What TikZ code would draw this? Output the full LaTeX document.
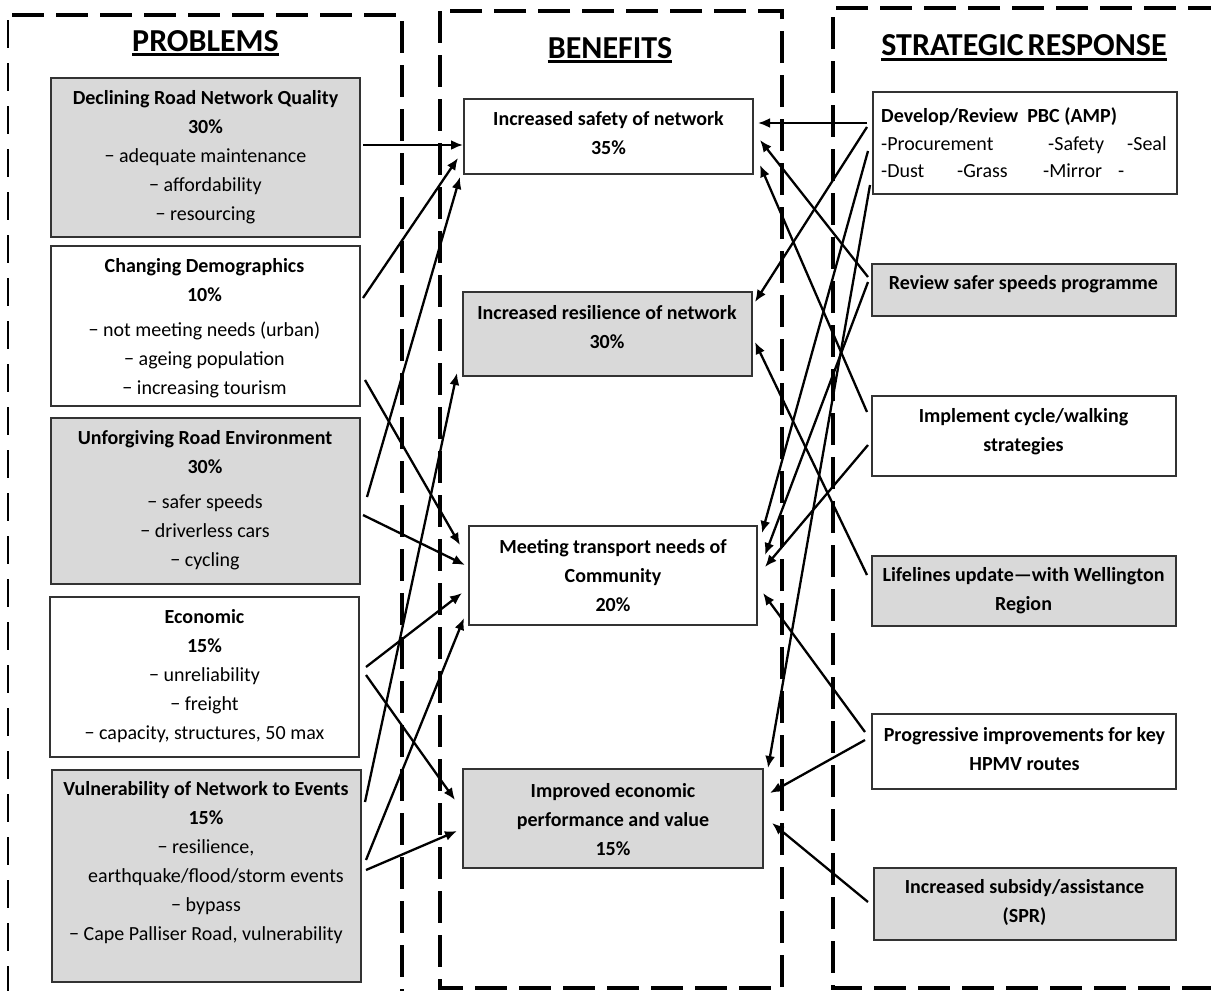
\documentclass[tikz,border=0pt]{standalone}
\usepackage{fontspec}
\setmainfont{Carlito}
\usetikzlibrary{arrows.meta}
\definecolor{gfill}{HTML}{D9D9D9}
\begin{document}
\begin{tikzpicture}[x=1pt,y=-1pt,
  box/.style={draw=black!80, line width=1.2pt, inner sep=0pt, outer sep=0pt},
  gbox/.style={box, fill=gfill},
  wbox/.style={box, fill=white},
  txt/.style={align=center, inner sep=0pt, font=\fontsize{20}{29}\selectfont},
  btxt/.style={txt, font=\fontsize{20}{29}\selectfont\bfseries},
  hdr/.style={inner sep=0pt, anchor=base, font=\fontsize{32}{36}\selectfont\bfseries},
  uline/.style={line width=3.2pt},
  frame/.style={line width=4pt, dash pattern=on 32pt off 12pt},
  thinframe/.style={line width=1.8pt, dash pattern=on 28pt off 15pt},
  arr/.style={line width=2.3pt, -{Latex[length=12pt,width=10pt]}}
]
\useasboundingbox (0,0) rectangle (1211,991);
\clip (0,0) rectangle (1211,991);
\fill[white] (0,0) rectangle (1211,991);

% dashed frames
\draw[frame] (12,15) -- (402,15) -- (402,1000);
\draw[thinframe] (8,20) -- (8,1000);
\draw[frame] (440,11) rectangle (782,988);
\draw[frame] (1220,8) -- (833,8) -- (833,988) -- (1220,988);

% headers
\node[hdr] (h1) at (205.5,51) {PROBLEMS};
\node[hdr] (h2) at (610,58) {BENEFITS};
\node[hdr] (h3) at (1024,55) {STRATEGIC\hspace{4pt}RESPONSE};
\draw[uline] ([yshift=-3.8pt]h1.base west) -- ([yshift=-3.8pt]h1.base east);
\draw[uline] ([yshift=-3.8pt]h2.base west) -- ([yshift=-3.8pt]h2.base east);
\draw[uline] ([yshift=-4.5pt]h3.base west) -- ([yshift=-4.5pt]h3.base east);

% problem boxes
\node[gbox, minimum width=309pt, minimum height=159pt] (p1) at (205.5,157.5) {};
\node[wbox, minimum width=309pt, minimum height=160pt] (p2) at (205.5,326) {};
\node[gbox, minimum width=309pt, minimum height=166pt] (p3) at (205.5,501) {};
\node[wbox, minimum width=309pt, minimum height=160pt] (p4) at (204.5,677) {};
\node[gbox, minimum width=309pt, minimum height=212pt] (p5) at (206.5,876) {};

\node[txt] (p1t) at (205.5,157) {\textbf{Declining Road Network Quality}\\\textbf{30\%}\\− adequate maintenance\\− affordability\\− resourcing};
\node[txt] (p2t) at (204.5,328) {\textbf{Changing Demographics}\\\textbf{10\%}\\[6pt]− not meeting needs (urban)\\− ageing population\\− increasing tourism};
\node[txt] (p3t) at (205,500) {\textbf{Unforgiving Road Environment}\\\textbf{30\%}\\[6pt]− safer speeds\\− driverless cars\\− cycling};
\node[txt] (p4t) at (204.5,676) {\textbf{Economic}\\\textbf{15\%}\\− unreliability\\− freight\\− capacity, structures, 50 max};
\node[txt] (p5t) at (206,863) {\textbf{Vulnerability of Network to Events}\\\textbf{15\%}\\− resilience,\\\hspace*{20pt}earthquake/flood/storm events\\− bypass\\− Cape Palliser Road, vulnerability};

% benefit boxes
\node[wbox, minimum width=289pt, minimum height=75pt] (b1) at (608.5,136.5) {};
\node[gbox, minimum width=289pt, minimum height=84pt] (b2) at (607.5,334) {};
\node[wbox, minimum width=288pt, minimum height=99pt] (b3) at (613,575.5) {};
\node[gbox, minimum width=300pt, minimum height=99pt] (b4) at (613,818.5) {};

\node[btxt] (b1t) at (608.5,133.5) {Increased safety of network\\35\%};
\node[btxt] (b2t) at (607,327.5) {Increased resilience of network\\30\%};
\node[btxt] (b3t) at (613,575.5) {Meeting transport needs of\\Community\\20\%};
\node[btxt] (b4t) at (613,819.5) {Improved economic\\performance and value\\15\%};

% strategic response boxes
\node[wbox, minimum width=304pt, minimum height=102pt] (r1) at (1025,143) {};
\node[gbox, minimum width=304pt, minimum height=52pt] (r2) at (1024,290) {};
\node[wbox, minimum width=304pt, minimum height=80pt] (r3) at (1024,436) {};
\node[gbox, minimum width=304pt, minimum height=70pt] (r4) at (1024,591) {};
\node[wbox, minimum width=304pt, minimum height=75pt] (r5) at (1024,751.5) {};
\node[gbox, minimum width=302pt, minimum height=72pt] (r6) at (1025,904) {};

\node[txt, align=left, anchor=west, font=\fontsize{20}{27.5}\selectfont] (r1t) at (881,143)
  {\textbf{Develop/Review\ \ PBC (AMP)}\\\makebox[167pt][l]{-Procurement}\makebox[79pt][l]{-Safety}-Seal\\\makebox[76pt][l]{-Dust}\makebox[86pt][l]{-Grass}\makebox[75pt][l]{-Mirror}-};
\node[btxt] (r2t) at (1023.5,284) {Review safer speeds programme};
\node[btxt] (r3t) at (1023.5,431.5) {Implement cycle/walking\\strategies};
\node[btxt] (r4t) at (1023.5,591) {Lifelines update—with Wellington\\Region};
\node[btxt] (r5t) at (1024.5,749.5) {Progressive improvements for key\\HPMV routes};
\node[btxt] (r6t) at (1024.5,902.5) {Increased subsidy/assistance\\(SPR)};

% arrows from problems to benefits
\draw[arr] ([xshift=3pt]p1.east |- 0,145) -- ([xshift=-1pt]b1.west |- 0,145);
\draw[arr] ([xshift=3pt]p2.east |- 0,298) -- ([xshift=-6pt]b1.west |- 0,158);
\draw[arr] ([xshift=5pt]p2.east |- 0,380) -- ([xshift=-9pt]b3.west |- 0,545);
\draw[arr] ([xshift=7pt]p3.east |- 0,497) -- ([xshift=-4pt]b1.west |- 0,177);
\draw[arr] ([xshift=3pt]p3.east |- 0,515) -- ([xshift=-4pt]b3.west |- 0,565);
\draw[arr] ([xshift=7pt]p4.east |- 0,667) -- ([xshift=-7pt]b3.west |- 0,593);
\draw[arr] ([xshift=7pt]p4.east |- 0,675) -- ([xshift=-8pt]b4.west |- 0,800);
\draw[arr] ([xshift=4pt]p5.east |- 0,802) -- ([xshift=-6pt]b2.west |- 0,373);
\draw[arr] ([xshift=5pt]p5.east |- 0,860) -- ([xshift=-5pt]b3.west |- 0,618);
\draw[arr] ([xshift=5pt]p5.east |- 0,870) -- ([xshift=-6pt]b4.west |- 0,831);

% arrows from strategic responses to benefits
\draw[arr] ([xshift=-6pt]r1.west |- 0,123) -- ([xshift=5pt]b1.east |- 0,123);
\draw[arr] ([xshift=-6pt]r1.west |- 0,127) -- ([xshift=3pt]b2.east |- 0,302);
\draw[arr] ([xshift=-5pt]r1.west |- 0,151) -- ([xshift=5pt]b3.east |- 0,533);
\draw[arr] ([xshift=-3pt]r1.west |- 0,185) -- ([xshift=5pt]b4.east |- 0,768);
\draw[arr] ([xshift=-4pt]r2.west |- 0,277) -- ([xshift=7pt]b1.east |- 0,140);
\draw[arr] ([xshift=-4pt]r2.west |- 0,282) -- ([xshift=8pt]b3.east |- 0,555);
\draw[arr] ([xshift=-5pt]r3.west |- 0,412) -- ([xshift=7pt]b1.east |- 0,165);
\draw[arr] ([xshift=-4pt]r3.west |- 0,445) -- ([xshift=8pt]b3.east |- 0,567);
\draw[arr] ([xshift=-5pt]r4.west |- 0,575) -- ([xshift=3pt]b2.east |- 0,342);
\draw[arr] ([xshift=-7pt]r5.west |- 0,732) -- ([xshift=6pt]b3.east |- 0,593);
\draw[arr] ([xshift=-7pt]r5.west |- 0,740) -- ([xshift=7pt]b4.east |- 0,793);
\draw[arr] ([xshift=-6pt]r6.west |- 0,902) -- ([xshift=9pt]b4.east |- 0,823);
\end{tikzpicture}
\end{document}
